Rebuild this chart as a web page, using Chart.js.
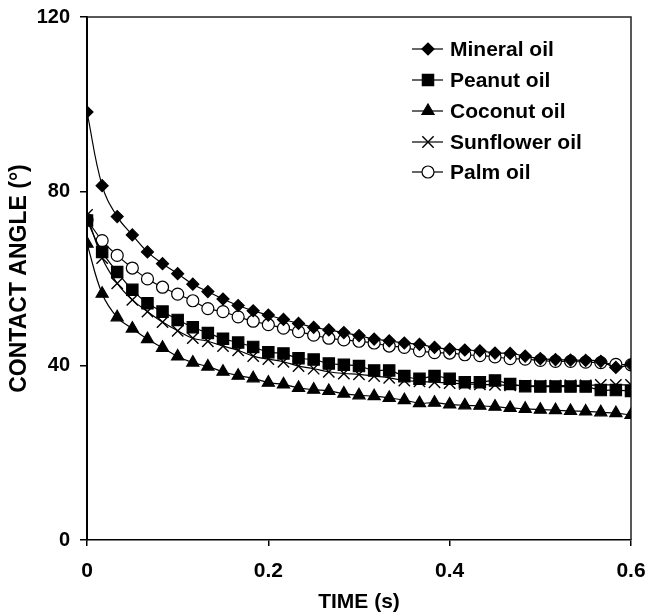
<!DOCTYPE html>
<html>
<head>
<meta charset="utf-8">
<script src="https://cdn.jsdelivr.net/npm/chart.js@4"></script>
<style>
  html, body { margin: 0; padding: 0; background: #fff; }
  #wrap { width: 646px; height: 615px; }
</style>
</head>
<body>
<div id="wrap"><canvas id="chart" width="646" height="615"></canvas></div>
<script>
// time points (s)
var times = [0, 0.0167, 0.0333, 0.05, 0.0667, 0.0833, 0.1, 0.1167, 0.1333, 0.15,
  0.1667, 0.1833, 0.2, 0.2167, 0.2333, 0.25, 0.2667, 0.2833, 0.3, 0.3167,
  0.3333, 0.35, 0.3667, 0.3833, 0.4, 0.4167, 0.4333, 0.45, 0.4667, 0.4833,
  0.5, 0.5167, 0.5333, 0.55, 0.5667, 0.5833, 0.6];

var mineral = [98.2, 81.3, 74.2, 70.0, 66.1, 63.4, 61.1, 58.7, 57.0, 55.3,
  53.8, 52.6, 51.6, 50.6, 49.7, 48.8, 48.2, 47.6, 46.9, 46.1,
  45.7, 45.2, 44.9, 44.2, 43.8, 43.6, 43.4, 42.9, 42.8, 42.2,
  41.6, 41.4, 41.3, 41.2, 41.0, 39.6, 40.3];
var peanut = [73.3, 66.1, 61.5, 57.4, 54.3, 52.4, 50.5, 48.8, 47.5, 46.2,
  45.3, 44.3, 43.1, 42.8, 41.7, 41.4, 40.5, 40.2, 39.9, 38.9,
  38.9, 37.6, 37.0, 37.6, 37.0, 36.2, 36.2, 36.6, 35.8, 35.3,
  35.2, 35.2, 35.2, 35.2, 34.4, 34.4, 34.2];
var coconut = [68.0, 56.5, 51.1, 48.5, 46.1, 44.1, 42.1, 40.7, 39.8, 38.6,
  37.7, 37.1, 36.1, 35.7, 34.9, 34.5, 34.2, 33.6, 33.2, 33.0,
  32.6, 32.1, 31.4, 31.5, 31.1, 30.9, 30.8, 30.6, 30.3, 30.1,
  29.9, 29.8, 29.6, 29.5, 29.3, 29.1, 28.7];
var sunflower = [74.6, 64.7, 58.9, 55.1, 52.4, 50.0, 48.0, 46.3, 45.6, 44.5,
  43.5, 42.2, 41.5, 40.9, 39.9, 39.3, 38.6, 38.2, 38.0, 37.6,
  37.2, 36.6, 36.4, 36.2, 36.0, 35.8, 35.7, 35.6, 35.5, 35.4,
  35.4, 35.4, 35.5, 35.5, 35.6, 35.6, 35.6];
var palm = [73.5, 68.7, 65.3, 62.4, 59.9, 58.0, 56.4, 54.9, 53.1, 52.4,
  51.2, 50.2, 49.4, 48.6, 47.8, 47.0, 46.3, 45.9, 45.6, 45.2,
  44.5, 44.2, 43.4, 43.0, 42.9, 42.5, 42.3, 42.0, 41.6, 41.5,
  41.2, 41.0, 41.0, 40.8, 40.7, 40.3, 40.2];

var xTicks = [0, 0.2, 0.4, 0.6];
var yTicks = [0, 40, 80, 120];

var FONT = "'Liberation Sans', Arial, sans-serif";

function pts(arr) {
  return arr.map(function (v, i) { return { x: times[i], y: v }; });
}

function makeSet(label, arr, style, radius, fill) {
  return {
    label: label,
    data: pts(arr),
    borderColor: '#000',
    borderWidth: 1.2,
    pointStyle: style,
    pointRadius: radius,
    pointBorderWidth: style === 'crossRot' ? 1.4 : 1.2,
    pointBackgroundColor: fill,
    pointBorderColor: '#000',
    tension: 0.4,
    fill: false
  };
}

// custom legend, line sample + marker + label
var legendPlugin = {
  id: 'oilLegend',
  afterDraw: function (chart) {
    var ctx = chart.ctx;
    var rows = [49, 80, 111, 142, 172];
    ctx.save();
    chart.data.datasets.forEach(function (ds, i) {
      var y = rows[i];
      ctx.strokeStyle = '#000';
      ctx.lineWidth = 1.2;
      ctx.beginPath();
      ctx.moveTo(412, y);
      ctx.lineTo(443, y);
      ctx.stroke();
      ctx.fillStyle = ds.pointBackgroundColor;
      ctx.lineWidth = ds.pointBorderWidth;
      Chart.helpers.drawPoint(ctx, {
        pointStyle: ds.pointStyle,
        radius: ds.pointRadius,
        borderWidth: ds.pointBorderWidth
      }, 428, y);
      ctx.fillStyle = '#000';
      ctx.font = 'bold 21px ' + FONT;
      ctx.textBaseline = 'middle';
      ctx.textAlign = 'left';
      ctx.fillText(ds.label, 450, y + 1);
    });
    ctx.restore();
  }
};

// top and right frame lines
var framePlugin = {
  id: 'frame',
  beforeDatasetsDraw: function (chart) {
    var a = chart.chartArea;
    var ctx = chart.ctx;
    ctx.save();
    ctx.strokeStyle = '#222';
    ctx.lineWidth = 1.5;
    ctx.beginPath();
    ctx.moveTo(a.left, a.top);
    ctx.lineTo(a.right, a.top);
    ctx.lineTo(a.right, a.bottom);
    ctx.stroke();
    ctx.restore();
  }
};

new Chart(document.getElementById('chart'), {
  type: 'line',
  data: {
    datasets: [
      makeSet('Mineral oil', mineral, 'rectRot', 6, '#000'),
      makeSet('Peanut oil', peanut, 'rect', 8, '#000'),
      makeSet('Coconut oil', coconut, 'triangle', 7, '#000'),
      makeSet('Sunflower oil', sunflower, 'crossRot', 8, '#000'),
      makeSet('Palm oil', palm, 'circle', 6, '#fff')
    ]
  },
  options: {
    responsive: false,
    animation: false,
    layout: { padding: { left: 4, right: 15, top: 17, bottom: 0 } },
    plugins: {
      legend: { display: false },
      tooltip: { enabled: false }
    },
    scales: {
      x: {
        type: 'linear',
        min: 0,
        max: 0.6,
        afterBuildTicks: function (axis) {
          axis.ticks = xTicks.map(function (v) { return { value: v }; });
        },
        afterFit: function (axis) {
          axis.height = 75;
          axis.paddingLeft = 0;
          axis.paddingRight = 0;
        },
        border: { display: true, color: '#000', width: 1.5 },
        grid: { drawOnChartArea: false, drawTicks: true, tickLength: 6, color: '#000', lineWidth: 1.5 },
        ticks: {
          color: '#000',
          padding: 13,
          maxRotation: 0,
          font: { family: FONT, size: 21, weight: 'bold' },
          callback: function (v) { return String(+v.toFixed(1)); }
        },
        title: {
          display: true,
          text: 'TIME (s)',
          color: '#000',
          padding: { top: 0, bottom: 0 },
          font: { family: FONT, size: 21, weight: 'bold' }
        }
      },
      y: {
        min: 0,
        max: 120,
        afterBuildTicks: function (axis) {
          axis.ticks = yTicks.map(function (v) { return { value: v }; });
        },
        afterFit: function (axis) {
          axis.width = 83;
          axis.paddingTop = 0;
          axis.paddingBottom = 0;
        },
        border: { display: true, color: '#000', width: 2 },
        grid: { drawOnChartArea: false, drawTicks: true, tickLength: 7, color: '#000', lineWidth: 1.5 },
        ticks: {
          color: '#000',
          padding: 10,
          font: { family: FONT, size: 20, weight: 'bold' }
        },
        title: {
          display: true,
          text: 'CONTACT ANGLE (°)',
          color: '#000',
          padding: { top: 2, bottom: 0 },
          font: { family: FONT, size: 23, weight: 'bold' }
        }
      }
    }
  },
  plugins: [framePlugin, legendPlugin]
});
</script>
</body>
</html>
